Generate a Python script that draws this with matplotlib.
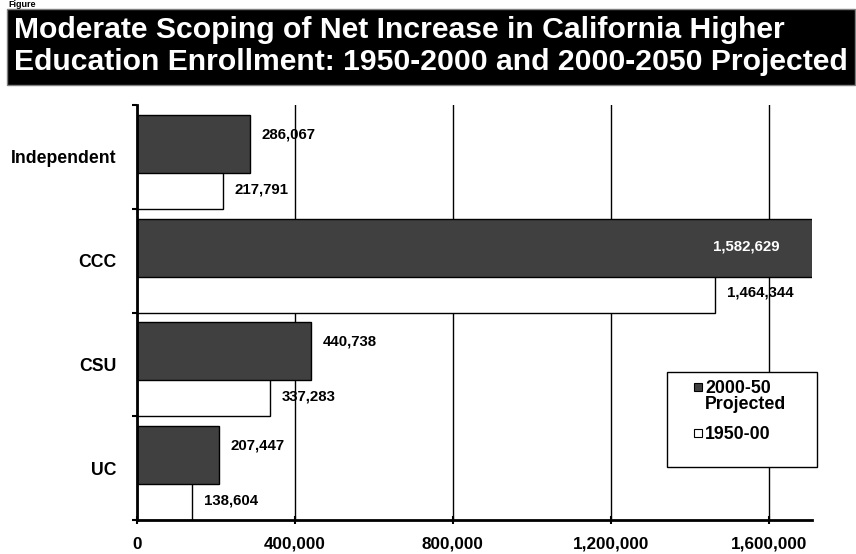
#!/usr/bin/env python3
"""Net increase in California higher education enrollment, 1950-2000 vs 2000-2050."""

import matplotlib.pyplot as plt
from matplotlib.patches import Rectangle

plt.rcParams["font.family"] = ["Liberation Sans", "DejaVu Sans"]
plt.rcParams["font.weight"] = "bold"

CATEGORIES = ["Independent", "CCC", "CSU", "UC"]
PROJECTED = [286067, 1582629, 440738, 207447]  # 2000-50 projected
PAST = [217791, 1464344, 337283, 138604]  # 1950-00
# the CCC projected bar runs off the end of the axis in the original
PROJECTED_BAR = [286067, 1720000, 440738, 207447]
X_TICKS = [0, 400000, 800000, 1200000, 1600000]
X_MAX = 1710000

TITLE = ("Moderate Scoping of Net Increase in California Higher\n"
         "Education Enrollment: 1950-2000 and 2000-2050 Projected")
LEGEND_LABELS = ["2000-50\nProjected", "1950-00"]

DARK = "#404040"
LIGHT = "#ffffff"

W, H = 856, 554


def fx(px):
    return px / W


def fy(py):
    return 1 - py / H


def main():
    fig = plt.figure(figsize=(W / 100, H / 100), dpi=100)
    ax = fig.add_axes([fx(137), fy(520), fx(812) - fx(137), fy(105) - fy(520)])

    ys = list(range(len(CATEGORIES) - 1, -1, -1))
    bar_h = 0.56
    y_dark = [y + 0.125 for y in ys]
    y_light = [y - 0.22 for y in ys]

    ax.barh(y_light, PAST, height=bar_h, color=LIGHT, edgecolor="black",
            linewidth=1, zorder=2)
    ax.barh(y_dark, PROJECTED_BAR, height=bar_h, color=DARK, edgecolor="black",
            linewidth=1, zorder=3)

    for y, v in zip(ys, PAST):
        ax.annotate(f"{v:,}", xy=(v, y - 0.31), xytext=(8.6, 0),
                    textcoords="offset points", va="center", ha="left",
                    fontsize=10.8, fontweight="bold", zorder=5)
    for y, v, vb in zip(ys, PROJECTED, PROJECTED_BAR):
        if vb > X_MAX:
            ax.annotate(f"{v:,}", xy=(v, y + 0.14), xytext=(-11, 0),
                        textcoords="offset points", va="center", ha="center",
                        fontsize=10.8, fontweight="bold", color="white",
                        zorder=5)
        else:
            ax.annotate(f"{v:,}", xy=(v, y + 0.22), xytext=(8.6, 0),
                        textcoords="offset points", va="center", ha="left",
                        fontsize=10.8, fontweight="bold", zorder=5)

    ax.set_xlim(0, X_MAX)
    ax.set_ylim(-0.5, len(CATEGORIES) - 0.5)
    ax.set_xticks(X_TICKS)
    ax.set_xticklabels([f"{t:,}" for t in X_TICKS], fontsize=12.3,
                       fontweight="bold")
    ax.set_yticks(ys)
    ax.set_yticklabels(CATEGORIES, fontsize=12.7, fontweight="bold")
    ax.set_yticks([y + 0.5 for y in range(-1, len(CATEGORIES))], minor=True)
    ax.tick_params(axis="y", which="major", length=0, pad=15)
    ax.tick_params(axis="y", which="minor", length=3.5, width=1.5,
                   direction="out")
    ax.tick_params(axis="x", length=6, width=1.5, direction="inout", pad=9)

    ax.grid(True, axis="x", color="black", linewidth=1, zorder=1)
    ax.set_axisbelow(True)
    for side in ("top", "right"):
        ax.spines[side].set_visible(False)
    for side in ("left", "bottom"):
        ax.spines[side].set_linewidth(2)
        ax.spines[side].set_zorder(6)

    # title block
    fig.patches.append(Rectangle((fx(7), fy(85)), fx(855) - fx(7),
                                 fy(9) - fy(85), transform=fig.transFigure,
                                 facecolor="black", edgecolor="#808080",
                                 linewidth=1))
    fig.text(fx(14), fy(16), TITLE, color="white", fontsize=21.7,
             fontweight="bold", va="top", ha="left", linespacing=1.18)
    fig.text(fx(8), fy(0), "Figure", fontsize=6.5, fontweight="bold",
             va="top", ha="left")

    # legend
    fig.patches.append(Rectangle((fx(667), fy(467)), fx(817) - fx(667),
                                 fy(372) - fy(467), transform=fig.transFigure,
                                 facecolor="white", edgecolor="black",
                                 linewidth=1, zorder=10))
    for color, label, hy, ty in [(DARK, LEGEND_LABELS[0], 387, 380),
                                 (LIGHT, LEGEND_LABELS[1], 433, 426)]:
        fig.patches.append(Rectangle((fx(694), fy(hy + 4)), fx(8), 8 / H,
                                     transform=fig.transFigure,
                                     facecolor=color, edgecolor="black",
                                     linewidth=0.8, zorder=11))
        fig.text(fx(705), fy(ty), label, fontsize=12.8, fontweight="bold",
                 va="top", ha="left", linespacing=0.95, zorder=12)

    fig.savefig("out.png", dpi=100)


if __name__ == "__main__":
    main()
